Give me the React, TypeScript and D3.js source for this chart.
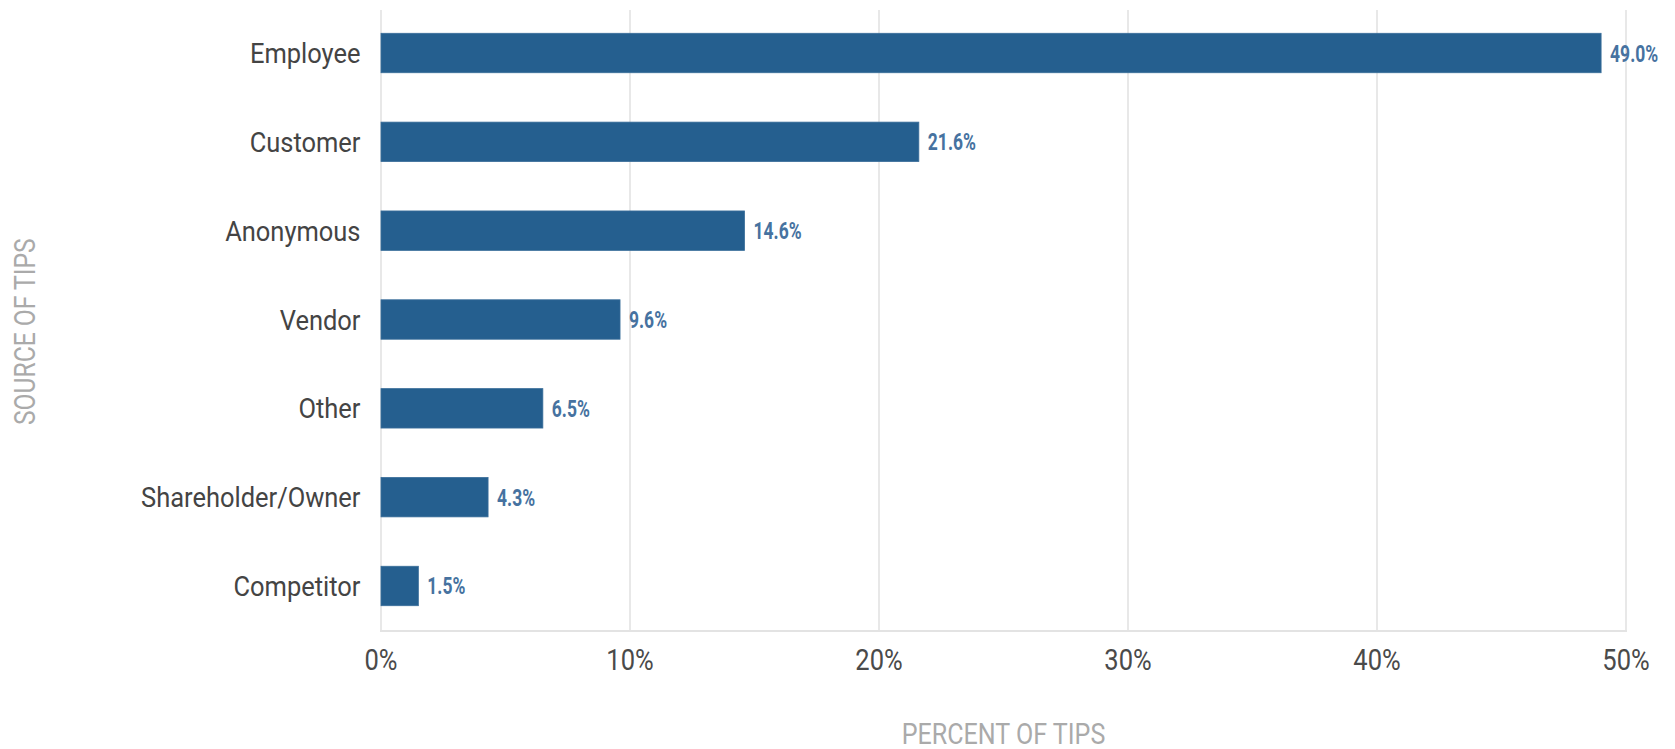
import React, { useEffect } from "react";
import * as d3 from "d3";

const categories = ["Employee", "Customer", "Anonymous", "Vendor", "Other", "Shareholder/Owner", "Competitor"];
const values = [49.0, 21.6, 14.6, 9.6, 6.5, 4.3, 1.5];
const xTicks = [0, 10, 20, 30, 40, 50];
const xTitle = "PERCENT OF TIPS";
const yTitle = "SOURCE OF TIPS";

const W = 1675;
const H = 749;
const FONT = "Roboto, 'Noto Sans', sans-serif";

export default function App() {
  useEffect(() => {
    document.body.style.margin = "0";
    document.body.style.background = "#ffffff";
  }, []);

  const x = d3.scaleLinear().domain([0, 50]).range([381, 1626]);
  const y = d3.scaleBand<string>().domain(categories).range([8.6, 630.4]).paddingInner(0.556).paddingOuter(0.278);
  const gridTop = 10;
  const gridBottom = 631;

  return (
    <svg width={W} height={H} viewBox={`0 0 ${W} ${H}`} style={{ display: "block", background: "#fff" }}>
      {/* gridlines */}
      <g>
        {xTicks.map((t) => (
          <line key={t} x1={x(t)} x2={x(t)} y1={gridTop} y2={gridBottom} stroke="#e8e8e8" strokeWidth={2} />
        ))}
        <line x1={x(0) - 1} x2={x(50) + 1} y1={gridBottom} y2={gridBottom} stroke="#e3e3e3" strokeWidth={2} />
      </g>
      {/* bars */}
      <g>
        {categories.map((c, i) => (
          <rect
            key={c}
            x={x(0)}
            y={y(c)!}
            width={x(values[i]) - x(0)}
            height={y.bandwidth()}
            fill="#255f8f"
            stroke="#3a6e9a"
            strokeWidth={0.8}
          />
        ))}
      </g>
      {/* value labels */}
      <g>
        {categories.map((c, i) => {
          const cy = y(c)! + y.bandwidth() / 2;
          return (
            <text
              key={c}
              transform={`translate(${x(values[i]) + 9},${cy + 8.5}) scale(0.76,1)`}
              fontFamily={FONT}
              fontWeight={700}
              fontSize={23}
              fill="#4672a0"
              textAnchor="start"
            >
              {values[i].toFixed(1) + "%"}
            </text>
          );
        })}
      </g>
      {/* category labels */}
      <g>
        {categories.map((c) => {
          const cy = y(c)! + y.bandwidth() / 2;
          return (
            <text
              key={c}
              transform={`translate(360.5,${cy + 10}) scale(0.91,1)`}
              fontFamily={FONT}
              fontSize={28}
              fill="#444444"
              textAnchor="end"
            >
              {c}
            </text>
          );
        })}
      </g>
      {/* x tick labels */}
      <g>
        {xTicks.map((t) => (
          <text
            key={t}
            transform={`translate(${x(t)},670) scale(0.85,1)`}
            fontFamily={FONT}
            fontSize={30}
            fill="#4a4a4a"
            textAnchor="middle"
          >
            {t + "%"}
          </text>
        ))}
      </g>
      {/* axis titles */}
      <text
        transform={`translate(${(x(0) + x(50)) / 2},744) scale(0.85,1)`}
        fontFamily={FONT}
        fontSize={29.5}
        fill="#aaaaaa"
        textAnchor="middle"
      >
        {xTitle}
      </text>
      <text
        transform={`translate(35,331.7) rotate(-90) scale(0.85,1)`}
        fontFamily={FONT}
        fontSize={29}
        fill="#aaaaaa"
        textAnchor="middle"
      >
        {yTitle}
      </text>
    </svg>
  );
}
